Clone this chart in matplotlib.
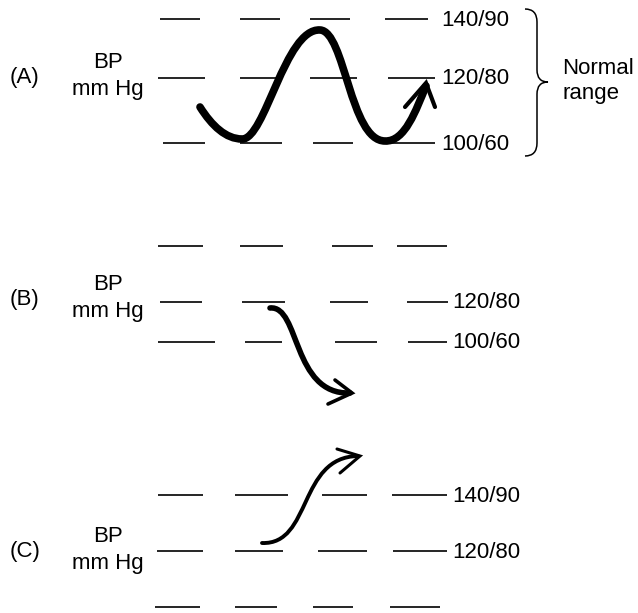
import matplotlib.pyplot as plt
from matplotlib.path import Path
from matplotlib.patches import PathPatch

plt.rcParams['font.family'] = ['Liberation Sans', 'DejaVu Sans']

# panel letters and rows of dashes (pixel coords, y downward)
panel_names = ['(A)', '(B)', '(C)']
panel_label_y = [77, 300, 552]
bp_label_y = [62, 285, 536]

rows_y = [
    [19, 78, 143],
    [246, 302, 342],
    [495, 551, 607],
]
dashes_x = [
    [[(160, 200), (240, 280), (310, 350), (385, 428)],
     [(158, 205), (240, 282), (310, 357), (388, 435)],
     [(163, 205), (240, 282), (313, 353), (383, 435)]],
    [[(158, 203), (240, 283), (332, 373), (397, 447)],
     [(160, 202), (242, 285), (330, 368), (407, 448)],
     [(158, 215), (245, 282), (335, 377), (408, 447)]],
    [[(158, 203), (235, 288), (322, 367), (392, 447)],
     [(157, 203), (235, 283), (318, 367), (393, 447)],
     [(155, 200), (235, 277), (313, 353), (390, 440)]],
]
row_labels = [
    ['140/90', '120/80', '100/60'],
    ['', '120/80', '100/60'],
    ['140/90', '120/80', ''],
]
label_x = [441, 452, 452]

# pressure curves: bezier vertices (start, c1, c2, end, ...)
curve_a = [(200, 107), (212, 126), (226, 139), (242, 139),
           (265, 140), (285, 28), (320, 30),
           (345, 31), (350, 141), (385, 141),
           (405, 142), (416, 110), (426, 86)]
curve_b = [(270, 308), (300, 305), (292, 395), (350, 393)]
curve_c = [(262, 543), (312, 545), (298, 457), (358, 456)]
curve_width = [5.5, 4.0, 2.8]
# arrow heads: wing, tip, wing
heads = [
    [(405, 107), (426, 83), (435, 107)],
    [(335, 380), (352, 393), (328, 404)],
    [(337, 449), (360, 456), (340, 473)],
]
head_width = [3.0, 2.6, 2.2]

fig = plt.figure(figsize=(6.38, 6.13), dpi=100)
ax = fig.add_axes([0, 0, 1, 1])
ax.set_xlim(0, 638)
ax.set_ylim(613, 0)
ax.axis('off')

fs = 16
for i in range(3):
    ax.text(10, panel_label_y[i], panel_names[i], fontsize=fs, va='center', ha='left')
    ax.text(108, bp_label_y[i], 'BP', fontsize=fs, va='center', ha='center')
    ax.text(108, bp_label_y[i] + 27, 'mm Hg', fontsize=fs, va='center', ha='center')
    for y, segs, lab in zip(rows_y[i], dashes_x[i], row_labels[i]):
        for x0, x1 in segs:
            ax.plot([x0, x1], [y, y], color='black', lw=1.2, solid_capstyle='butt')
        if lab:
            ax.text(label_x[i], y + 1, lab, fontsize=fs, va='center', ha='left')

for pts, lw, hd, hw in zip([curve_a, curve_b, curve_c], curve_width, heads, head_width):
    codes = [Path.MOVETO] + [Path.CURVE4] * (len(pts) - 1)
    ax.add_patch(PathPatch(Path(pts, codes), fill=False, lw=lw, color='black',
                           capstyle='round', joinstyle='round'))
    hx, hy = zip(*hd)
    ax.plot(hx, hy, color='black', lw=hw, solid_capstyle='round',
            solid_joinstyle='miter')

# brace for normal range
brace = [(525, 9), (537, 9), (537, 22),
         (537, 70),
         (537, 82), (548, 82),
         (537, 82), (537, 94),
         (537, 143),
         (537, 156), (525, 156)]
brace_codes = [Path.MOVETO, Path.CURVE3, Path.CURVE3, Path.LINETO,
               Path.CURVE3, Path.CURVE3, Path.CURVE3, Path.CURVE3,
               Path.LINETO, Path.CURVE3, Path.CURVE3]
ax.add_patch(PathPatch(Path(brace, brace_codes), fill=False, lw=1.1, color='black'))
ax.text(562, 68, 'Normal', fontsize=fs, va='center', ha='left')
ax.text(562, 93, 'range', fontsize=fs, va='center', ha='left')

fig.savefig('out.png', dpi=100)
